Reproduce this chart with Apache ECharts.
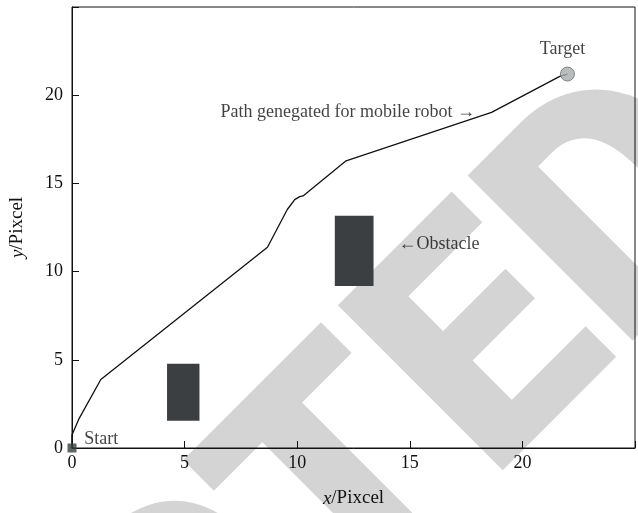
<!DOCTYPE html>
<html>
<head>
<meta charset="utf-8">
<script src="https://cdn.jsdelivr.net/npm/echarts@6/dist/echarts.min.js"></script>
<style>
  html, body { margin: 0; padding: 0; background: #fff; }
  #chart { width: 638px; height: 513px; }
</style>
</head>
<body>
<div id="chart"></div>
<script>
// path of the robot (x, y in pixels)
const pathX = [0, 0, 0.32, 1.28, 8.68, 9.56, 9.89, 10.11, 10.26, 12.17, 18.63, 21.66, 22.0];
const pathY = [0, 0.74, 1.68, 3.88, 11.38, 13.52, 14.08, 14.25, 14.29, 16.28, 19.03, 21.07, 21.2];

// obstacles: x from/to, y from/to
const obsX0 = [4.22, 11.67];
const obsX1 = [5.66, 13.39];
const obsY0 = [1.54, 9.18];
const obsY1 = [4.77, 13.17];

const startPt = [0, 0];
const targetPt = [22.0, 21.2];

// text notes
const noteText = ['Target', 'Path genegated for mobile robot \u2192', '\u2190Obstacle', 'Start'];
const noteX = [21.78, 17.89, 14.5, 0.54];
const noteY = [22.62, 19.04, 11.56, 0.52];

const xTicks = [0, 5, 10, 15, 20];
const yTicks = [0, 5, 10, 15, 20];

const serif = '"Liberation Serif", "DejaVu Serif", serif';
const ink = '#111';

const chart = echarts.init(document.getElementById('chart'));

const notePos = ['inside', 'left', 'right', 'right'];

chart.setOption({
  animation: false,
  graphic: {
    elements: [{
      // watermark
      type: 'text',
      z: -100,
      silent: true,
      x: 712, y: 145,
      rotation: Math.PI / 4,
      style: {
        text: 'RETRACTED',
        font: '900 328px Roboto',
        fill: '#d4d4d4',
        textAlign: 'right',
        textVerticalAlign: 'middle'
      }
    }]
  },
  grid: {
    left: 72, top: 7, width: 566, height: 446,
    show: true, borderColor: ink, borderWidth: 1, backgroundColor: 'transparent'
  },
  xAxis: {
    type: 'value', min: 0, max: 25, interval: 5,
    splitLine: { show: false },
    axisLine: { lineStyle: { color: ink, width: 1 } },
    axisTick: { inside: true, length: 7, lineStyle: { color: ink } },
    axisLabel: {
      margin: 6, color: ink, fontFamily: serif, fontSize: 18,
      formatter: v => (xTicks.includes(v) ? String(v) : '')
    },
    name: '{i|x}/Pixcel',
    nameLocation: 'middle', nameGap: 41,
    nameTextStyle: {
      color: ink, fontFamily: serif, fontSize: 19,
      rich: { i: { fontStyle: 'italic', fontFamily: serif, fontSize: 19, color: ink } }
    }
  },
  yAxis: {
    type: 'value', min: 0, max: 25, interval: 5,
    splitLine: { show: false },
    axisLine: { lineStyle: { color: ink, width: 1 } },
    axisTick: { inside: true, length: 7, lineStyle: { color: ink } },
    axisLabel: {
      margin: 9, color: ink, fontFamily: serif, fontSize: 18,
      formatter: v => (yTicks.includes(v) ? String(v) : '')
    },
    name: '{i|y}/Pixcel',
    nameLocation: 'middle', nameGap: 45, nameRotate: 90,
    nameTextStyle: {
      color: ink, fontFamily: serif, fontSize: 19,
      rich: { i: { fontStyle: 'italic', fontFamily: serif, fontSize: 19, color: ink } }
    }
  },
  series: [
    {
      type: 'custom',
      name: 'Obstacle',
      renderItem: (params, api) => {
        const p0 = api.coord([api.value(0), api.value(3)]);
        const p1 = api.coord([api.value(1), api.value(2)]);
        return {
          type: 'rect',
          shape: { x: p0[0], y: p0[1], width: p1[0] - p0[0], height: p1[1] - p0[1] },
          style: { fill: '#3c3f41' }
        };
      },
      data: obsX0.map((x, i) => [x, obsX1[i], obsY0[i], obsY1[i]])
    },
    {
      type: 'line',
      name: 'Path',
      data: pathX.map((x, i) => [x, pathY[i]]),
      symbol: 'none',
      lineStyle: { color: '#111', width: 1.3 },
      z: 3
    },
    {
      type: 'scatter',
      name: 'Start',
      data: [startPt],
      symbol: 'rect', symbolSize: 9,
      itemStyle: { color: '#3a3d3f' },
      z: 4
    },
    {
      type: 'scatter',
      name: 'Target',
      data: [targetPt],
      symbol: 'circle', symbolSize: 14,
      itemStyle: { color: '#a9acae', borderColor: '#6b6e70', borderWidth: 1 },
      z: 4
    },
    {
      type: 'scatter',
      name: 'Notes',
      symbolSize: 0,
      silent: true,
      data: noteText.map((t, i) => ({
        value: [noteX[i], noteY[i]],
        label: { show: true, formatter: t, position: notePos[i], distance: 0 }
      })),
      label: { color: ink, fontFamily: serif, fontSize: 18 },
      z: 5
    }
  ]
});
</script>
</body>
</html>
